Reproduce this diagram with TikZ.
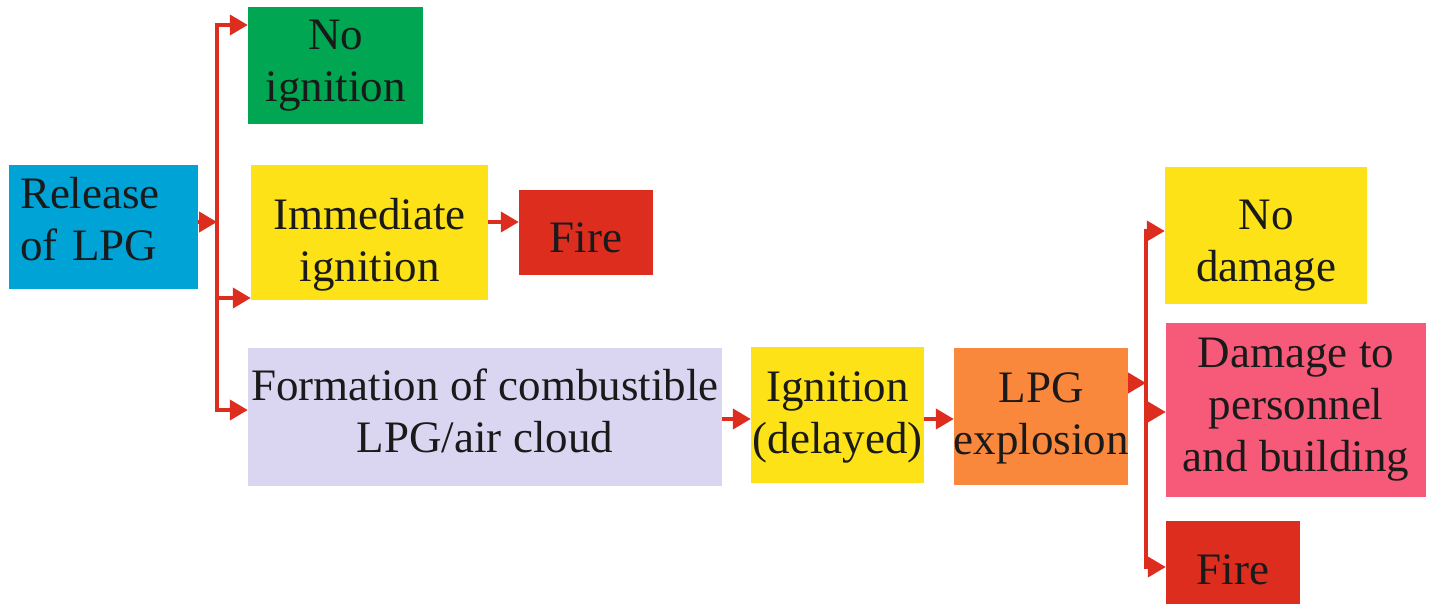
\documentclass[tikz,border=0pt]{standalone}
\usepackage{fontspec}
\setmainfont{Liberation Serif}
\usetikzlibrary{arrows.meta}
\definecolor{cblue}{RGB}{0,163,214}
\definecolor{cgreen}{RGB}{0,166,81}
\definecolor{cyellow}{RGB}{252,226,23}
\definecolor{cred}{RGB}{221,45,30}
\definecolor{clav}{RGB}{218,214,242}
\definecolor{corange}{RGB}{250,136,60}
\definecolor{cpink}{RGB}{246,90,120}
\definecolor{ctext}{RGB}{26,26,26}
\tikzset{
  box/.style={inner sep=0pt},
  txt/.style={inner sep=0pt, align=center, text=ctext,
    font=\fontsize{45}{52}\selectfont},
  conn/.style={draw=cred, line width=4pt},
  arr/.style={conn, -{Triangle[length=18pt,width=20pt]}},
}
\begin{document}
\begin{tikzpicture}[x=1pt,y=-1pt]
\useasboundingbox (0,0) rectangle (1431,604);
% boxes
\node[box, fill=cblue, minimum width=189pt, minimum height=124pt,
  label={[txt, name=relt, yshift=8pt, text width=167pt, align=left]center:Release\\of LPG}] (rel) at (103.5,227) {};
\node[box, fill=cgreen, minimum width=175pt, minimum height=117pt,
  label={[txt, name=noignt]center:No\\ignition}] (noign) at (335.5,65.5) {};
\node[box, fill=cyellow, minimum width=237pt, minimum height=135pt,
  label={[txt, name=immt, yshift=-12pt]center:Immediate\\ignition}] (imm) at (369.5,232.5) {};
\node[box, fill=cred, minimum width=134pt, minimum height=85pt,
  label={[txt, name=fire1t, yshift=-5pt]center:Fire}] (fire1) at (586,232.5) {};
\node[box, fill=clav, minimum width=474pt, minimum height=138pt,
  label={[txt, name=formt, yshift=6pt]center:Formation of combustible\\LPG/air cloud}] (form) at (485,417) {};
\node[box, fill=cyellow, minimum width=173pt, minimum height=136pt,
  label={[txt, name=ignt, yshift=-2pt]center:Ignition\\(delayed)}] (ign) at (837.5,415) {};
\node[box, fill=corange, minimum width=174pt, minimum height=137pt,
  label={[txt, name=explt, yshift=-2pt]center:LPG\\explosion}] (expl) at (1041,416.5) {};
\node[box, fill=cyellow, minimum width=202pt, minimum height=137pt,
  label={[txt, name=nodamt, yshift=-10pt]center:No\\damage}] (nodam) at (1266,235.5) {};
\node[box, fill=cpink, minimum width=260pt, minimum height=174pt,
  label={[txt, name=damt]center:Damage to\\personnel\\and building}] (dam) at (1296,410) {};
\node[box, fill=cred, minimum width=134pt, minimum height=83pt,
  label={[txt, name=fire2t, yshift=-7pt]center:Fire}] (fire2) at (1233,562.5) {};
% trunk coordinates
\coordinate (t1) at (217,222);
\coordinate (t1top) at (217,25);
\coordinate (t1mid) at (217,298);
\coordinate (t1bot) at (217,410);
\coordinate (t2) at (1146,383);
\coordinate (t2top) at (1146,231);
\coordinate (t2mid) at (1146,412);
\coordinate (t2bot) at (1146,567);
% connectors
\draw[arr] (rel.east |- t1) -- (t1);
\draw[arr] (t1bot) -- (t1top) -- (noign.west |- t1top);
\draw[arr] (t1top) -- (t1bot) -- (form.west |- t1bot);
\draw[arr] (t1mid) -- (imm.west |- t1mid);
\draw[arr] (imm.east |- 0,222) -- (fire1.west |- 0,222);
\draw[arr] (form.east |- 0,419) -- (ign.west |- 0,419);
\draw[arr] (ign.east |- 0,419) -- (expl.west |- 0,419);
\draw[arr] (expl.east |- t2) -- (t2);
\draw[arr] (t2bot) -- (t2top) -- (nodam.west |- t2top);
\draw[arr] (t2top) -- (t2bot) -- (fire2.west |- t2bot);
\draw[arr] (t2mid) -- (dam.west |- t2mid);
\end{tikzpicture}
\end{document}
